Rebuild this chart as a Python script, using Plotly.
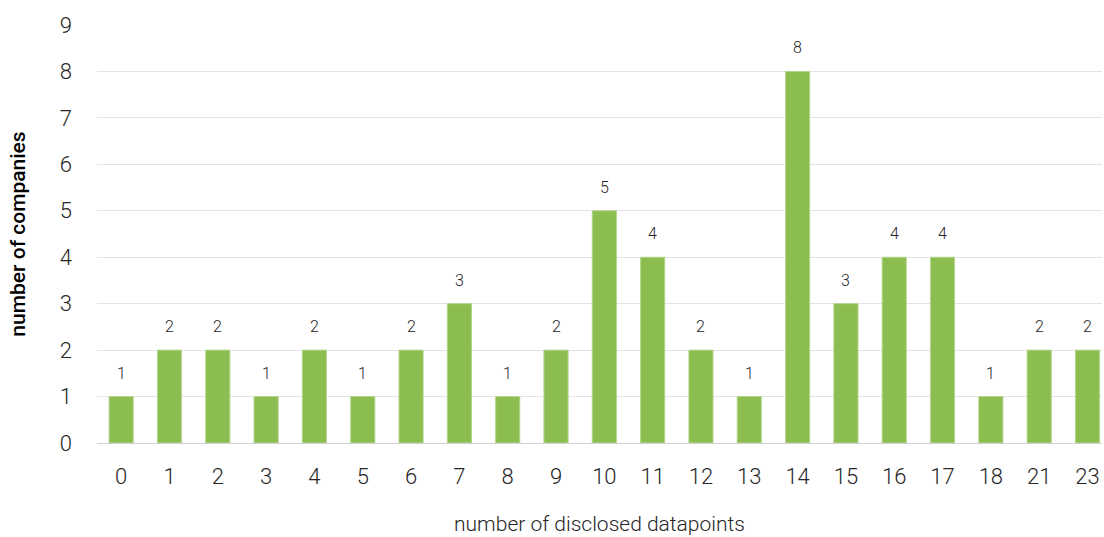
import plotly.graph_objects as go

# disclosed datapoints per company (category) and how many companies
datapoints = ["0", "1", "2", "3", "4", "5", "6", "7", "8", "9", "10",
              "11", "12", "13", "14", "15", "16", "17", "18", "21", "23"]
companies = [1, 2, 2, 1, 2, 1, 2, 3, 1, 2, 5, 4, 2, 1, 8, 3, 4, 4, 1, 2, 2]
y_ticks = list(range(0, 10))

FONT = "Roboto"
TEXT = "#262626"

fig = go.Figure(
    go.Bar(
        x=datapoints,
        y=companies,
        width=0.5,
        marker=dict(color="#8cbd50", line=dict(color="#b5d68f", width=1)),
        hoverinfo="x+y",
    )
)

# value labels floating above each bar (placed by category index so that
# numeric-looking category names are not read as positions)
for idx, val in enumerate(companies):
    fig.add_annotation(
        x=idx, y=val, xref="x", yref="y", text=str(val), showarrow=False,
        yanchor="bottom", yshift=12,
        font=dict(family=FONT, size=16, color=TEXT, weight=300),
    )

fig.update_layout(
    width=1104,
    height=537,
    margin=dict(l=97, r=2, t=25, b=94),
    paper_bgcolor="white",
    plot_bgcolor="white",
    showlegend=False,
    font=dict(family=FONT, color=TEXT),
    xaxis=dict(
        type="category",
        range=[-0.5, 20.3],
        tickfont=dict(family=FONT, size=22, color=TEXT, weight=300),
        ticks="",
        ticklabelstandoff=18,
        showgrid=False,
        showline=False,
        title=dict(
            text="number of disclosed datapoints",
            font=dict(family=FONT, size=21, color=TEXT, weight=300),
            standoff=28,
        ),
    ),
    yaxis=dict(
        range=[0, 9],
        tickvals=y_ticks,
        tickfont=dict(family=FONT, size=22, color=TEXT, weight=300),
        ticks="",
        ticklabelstandoff=24,
        showgrid=True,
        gridcolor="#e3e3e3",
        gridwidth=1,
        zeroline=True,
        zerolinecolor="#d0d0d0",
        zerolinewidth=1,
        title=dict(
            text="number of companies",
            font=dict(family=FONT, size=21, color="#000000", weight=500),
            standoff=28,
        ),
    ),
)

fig.write_html("out.html")
